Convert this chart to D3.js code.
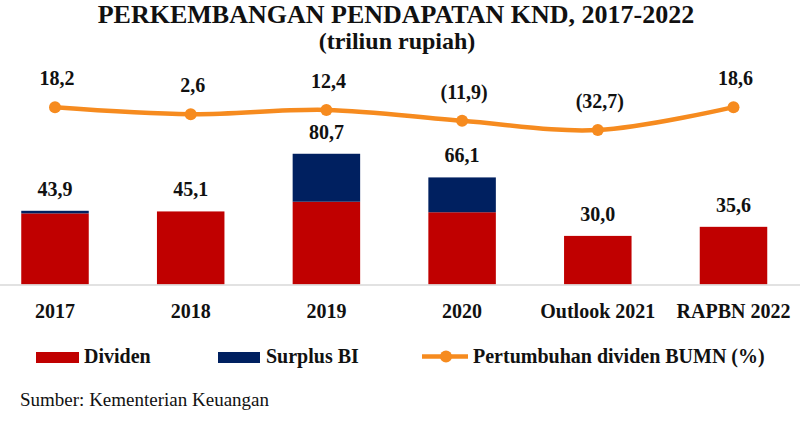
<!DOCTYPE html>
<html>
<head>
<meta charset="utf-8">
<script src="https://cdn.jsdelivr.net/npm/d3@7/dist/d3.min.js"></script>
<style>
  html, body { margin: 0; padding: 0; background: #fff; }
  svg { display: block; }
  svg text { font-family: 'Liberation Serif', 'Times New Roman', Times, 'DejaVu Serif', serif; fill: #111; }
</style>
</head>
<body>
<svg id="chart" width="800" height="428" font-family="Liberation Serif, Times New Roman, serif"></svg>
<script>
const categories = ["2017", "2018", "2019", "2020", "Outlook 2021", "RAPBN 2022"];
const dividen = [43.9, 45.1, 51.1, 44.6, 30.0, 35.6];
const surplusBI = [1.6, 0, 29.6, 21.5, 0, 0];
const totalLabels = ["43,9", "45,1", "80,7", "66,1", "30,0", "35,6"];
const growth = [18.2, 2.6, 12.4, -11.9, -32.7, 18.6];
const growthLabels = ["18,2", "2,6", "12,4", "(11,9)", "(32,7)", "18,6"];

const FONT = "'Liberation Serif', 'Times New Roman', Times, 'DejaVu Serif', serif";
const svg = d3.select("#chart");
const W = 800;

const x = d3.scaleBand().domain(categories)
  .range([-12.85, 801.35]).paddingInner(0.5026).paddingOuter(0.2513);
const y = d3.scaleLinear().domain([0, 100]).range([284.5, 122.5]);
const y2 = d3.scaleLinear().domain([-40, 40]).range([133.3, 97.6]);

const RED = "#C00000", NAVY = "#002060", ORANGE = "#F68B1F";

function txt(sel) { return sel.style("font-family", FONT); }

// Title
txt(svg.append("text")).attr("x", 396).attr("y", 23).attr("text-anchor", "middle")
  .style("font-size", "26px").style("font-weight", "bold")
  .text("PERKEMBANGAN PENDAPATAN KND, 2017-2022");
txt(svg.append("text")).attr("x", 397).attr("y", 49).attr("text-anchor", "middle")
  .style("font-size", "24px").style("font-weight", "bold")
  .text("(triliun rupiah)");

// Bars
const data = categories.map((c, i) => ({ c, d: dividen[i], s: surplusBI[i], label: totalLabels[i] }));
const g = svg.append("g");
g.selectAll("rect.div").data(data).join("rect")
  .attr("x", d => x(d.c)).attr("width", x.bandwidth())
  .attr("y", d => y(d.d)).attr("height", d => y(0) - y(d.d))
  .attr("fill", RED);
g.selectAll("rect.sur").data(data.filter(d => d.s > 0)).join("rect")
  .attr("x", d => x(d.c)).attr("width", x.bandwidth())
  .attr("y", d => y(d.d + d.s)).attr("height", d => y(d.d) - y(d.d + d.s))
  .attr("fill", NAVY);

// Axis baseline
svg.append("line").attr("x1", 0).attr("x2", W).attr("y1", y(0) + 0.5).attr("y2", y(0) + 0.5)
  .attr("stroke", "#d9d9d9").attr("stroke-width", 1.5);

// Category labels
txt(svg.selectAll("text.cat").data(categories).join("text"))
  .attr("class", "cat")
  .attr("x", d => x(d) + x.bandwidth() / 2).attr("y", 318)
  .attr("text-anchor", "middle").style("font-size", "20px").style("font-weight", "bold")
  .text(d => d);

// Bar value labels
txt(svg.selectAll("text.val").data(data).join("text"))
  .attr("class", "val")
  .attr("x", d => x(d.c) + x.bandwidth() / 2).attr("y", d => y(d.d + d.s) - 15)
  .attr("text-anchor", "middle").style("font-size", "20px").style("font-weight", "bold")
  .text(d => d.label);

// Growth line
const gdata = categories.map((c, i) => ({ c, v: growth[i], label: growthLabels[i] }));
const line = d3.line().x(d => x(d.c) + x.bandwidth() / 2).y(d => y2(d.v))
  .curve(d3.curveCatmullRom.alpha(0.5));
svg.append("path").datum(gdata).attr("d", line)
  .attr("fill", "none").attr("stroke", ORANGE).attr("stroke-width", 4.5);
svg.selectAll("circle.pt").data(gdata).join("circle")
  .attr("cx", d => x(d.c) + x.bandwidth() / 2).attr("cy", d => y2(d.v)).attr("r", 6)
  .attr("fill", ORANGE);
txt(svg.selectAll("text.gl").data(gdata).join("text"))
  .attr("class", "gl")
  .attr("x", d => x(d.c) + x.bandwidth() / 2 + 2).attr("y", d => y2(d.v) - 22)
  .attr("text-anchor", "middle").style("font-size", "20px").style("font-weight", "bold")
  .text(d => d.label);

// Legend
const lg = svg.append("g");
lg.append("rect").attr("x", 36).attr("y", 352).attr("width", 43).attr("height", 11).attr("fill", RED);
txt(lg.append("text")).attr("x", 84).attr("y", 363).style("font-size", "20px").style("font-weight", "bold").text("Dividen");
lg.append("rect").attr("x", 218).attr("y", 352).attr("width", 42).attr("height", 11).attr("fill", NAVY);
txt(lg.append("text")).attr("x", 266).attr("y", 363).style("font-size", "20px").style("font-weight", "bold").text("Surplus BI");
lg.append("line").attr("x1", 422).attr("x2", 468).attr("y1", 356.5).attr("y2", 356.5)
  .attr("stroke", ORANGE).attr("stroke-width", 4.5);
lg.append("circle").attr("cx", 446).attr("cy", 356.5).attr("r", 6).attr("fill", ORANGE);
txt(lg.append("text")).attr("x", 473).attr("y", 363).style("font-size", "20px").style("font-weight", "bold").text("Pertumbuhan dividen BUMN (%)");

// Source
txt(svg.append("text")).attr("x", 20).attr("y", 406).style("font-size", "19px")
  .text("Sumber: Kementerian Keuangan");
</script>
</body>
</html>
